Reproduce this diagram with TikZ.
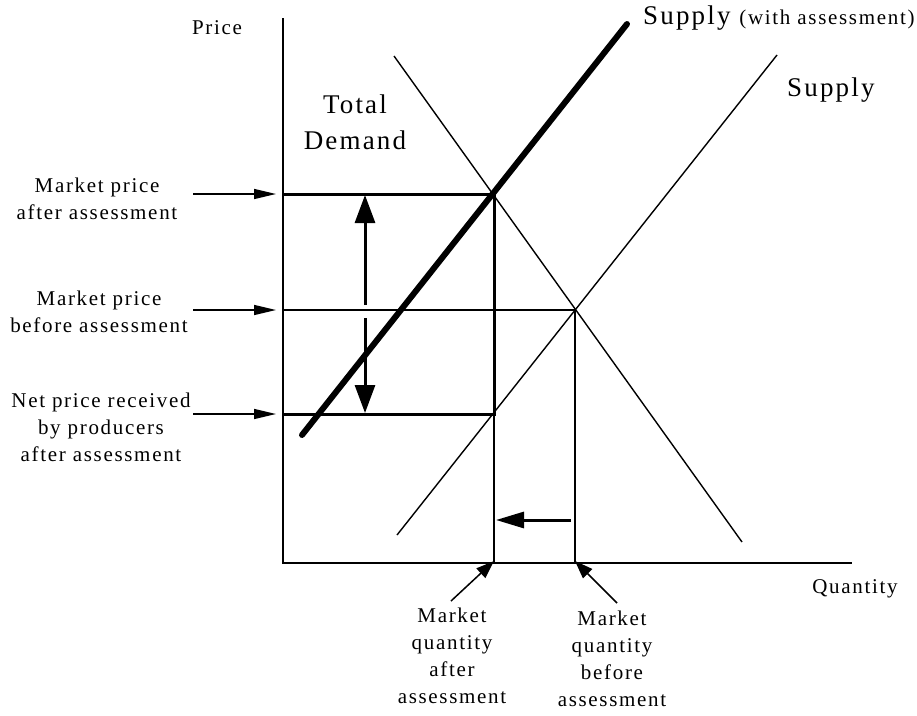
\documentclass[tikz,border=0pt]{standalone}
\usepackage{fontspec}
\setmainfont{Liberation Serif}[LetterSpace=8]
\usetikzlibrary{arrows.meta}
\begin{document}
\begin{tikzpicture}[x=1pt,y=-1pt,
  thinline/.style={line width=1.4pt},
  thickline/.style={line width=3pt},
  axisline/.style={line width=1.8pt},
  bigarrow/.style={line width=3pt,-{Triangle[length=28pt,width=20pt]}},
  harrow/.style={line width=3pt,-{Triangle[length=28pt,width=16pt]}},
  lblarrow/.style={line width=1.5pt,-{Triangle[length=22pt,width=10pt]}},
  qarrow/.style={line width=1.5pt,-{Triangle[length=18pt,width=13pt]}},
  lbl/.style={inner sep=0pt,align=center,font=\fontsize{21}{27}\selectfont},
  biglbl/.style={inner sep=0pt,align=center,font=\fontsize{27}{36}\selectfont}]
\useasboundingbox (0,0) rectangle (917,715);
% coordinates
\coordinate (O) at (283,563);
\coordinate (ytop) at (283,18);
\coordinate (xend) at (852,563);
\coordinate (Pa) at (283,194);
\coordinate (Pb) at (283,310);
\coordinate (Pn) at (283,414);
\coordinate (Ea) at (494,194);
\coordinate (Eb) at (575,310);
\coordinate (En) at (494,414);
\coordinate (Qa) at (494,563);
\coordinate (Qb) at (575,563);
% axes
\draw[axisline] (ytop) -- (O) -- (xend);
% curves
\coordinate (S0) at (397,535);
\coordinate (S1) at (777,55);
\coordinate (T0) at (302,435);
\coordinate (T1) at (627,24);
\coordinate (D0) at (394,56);
\coordinate (D1) at (742,542);
\draw[thinline] (S0) -- (S1);
\draw[thinline] (D0) -- (D1);
% price lines
\draw[thickline] (Pa) -- (Ea) -- (En) -- (Pn);
\draw[thinline] (Pb) -- (Eb) -- (Qb);
\draw[thinline] (En) -- (Qa);
\draw[line width=6pt,line cap=round] (T0) -- (T1);
% double arrow
\coordinate (A1) at (365,305);
\coordinate (A2) at (365,195);
\coordinate (A3) at (365,318);
\coordinate (A4) at (365,413);
\draw[bigarrow] (A1) -- (A2);
\draw[bigarrow] (A3) -- (A4);
\coordinate (H1) at (571,520);
\coordinate (H2) at (496,520);
\draw[harrow] (H1) -- (H2);
% texts
\node[lbl,anchor=base] (price) at (217,34) {Price};
\node[lbl,anchor=base] (qty) at (855,593) {Quantity};
\node[biglbl] (td) at (355,122) {Total\\Demand};
\node[biglbl,anchor=base west] (sw) at (643,24) {Supply \fontsize{21}{24}\selectfont(with assessment)};
\node[biglbl,anchor=base west] (s) at (787,96) {Supply};
\node[lbl] (mpa) at (97,199) {Market price\\after assessment};
\node[lbl] (mpb) at (99,312) {Market price\\before assessment};
\node[lbl] (npr) at (101,427) {Net price received\\by producers\\after assessment};
\node[lbl] (mqa) at (452,656) {Market\\quantity\\after\\assessment};
\node[lbl] (mqb) at (612,659) {Market\\quantity\\before\\assessment};
% label arrows
\coordinate (la1) at (193,194);
\coordinate (la2) at (193,310);
\coordinate (la3) at (193,414);
\draw[lblarrow] (la1) -- ([xshift=-7pt]Pa);
\draw[lblarrow] (la2) -- ([xshift=-7pt]Pb);
\draw[lblarrow] (la3) -- ([xshift=-7pt]Pn);
\coordinate (qa0) at (451,601);
\coordinate (qb0) at (617,603);
\draw[qarrow] (qa0) -- ([yshift=2pt]Qa);
\draw[qarrow] (qb0) -- ([yshift=2pt]Qb);
\end{tikzpicture}
\end{document}
